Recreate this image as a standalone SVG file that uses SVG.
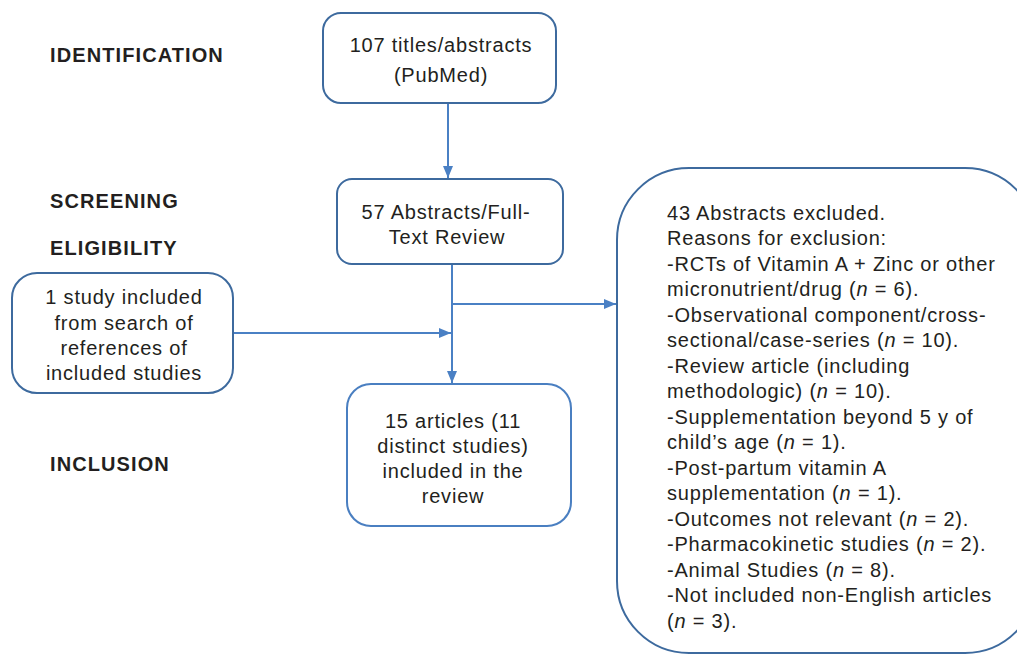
<svg xmlns="http://www.w3.org/2000/svg" width="1017" height="655" viewBox="0 0 1017 655">
<style>
.box{fill:#fff;stroke:#3d6a9e;stroke-width:2}
.box2{fill:#fff;stroke:#4a7fc1;stroke-width:2}
.t{font-family:"Liberation Sans",Arial,sans-serif;font-size:20px;fill:#231f20;letter-spacing:0.8px}
.c{text-anchor:middle}
.lab{font-family:"Liberation Sans",Arial,sans-serif;font-size:20px;font-weight:bold;fill:#231f20;letter-spacing:1.1px}
.con{stroke:#4a80c4;stroke-width:2;fill:none}
</style>
<defs>
<marker id="ah" viewBox="0 0 12 10" refX="12" refY="5" markerWidth="12" markerHeight="10" markerUnits="userSpaceOnUse" orient="auto">
<path d="M0,0 L12,5 L0,10 Z" fill="#4a80c4"/>
</marker>
</defs>
<g id="labels">
<text class="lab" x="50" y="62">IDENTIFICATION</text>
<text class="lab" x="50" y="208">SCREENING</text>
<text class="lab" x="50" y="255">ELIGIBILITY</text>
<text class="lab" x="50" y="471">INCLUSION</text>
</g>
<g id="connectors">
<line class="con" x1="448" y1="103" x2="448" y2="178" marker-end="url(#ah)"/>
<line class="con" x1="452" y1="264" x2="452" y2="383" marker-end="url(#ah)"/>
<line class="con" x1="452" y1="304" x2="616" y2="304" marker-end="url(#ah)"/>
<line class="con" x1="233" y1="333" x2="451" y2="333" marker-end="url(#ah)"/>
</g>
<g id="n1">
<rect class="box" x="323" y="13" width="233" height="90" rx="18"/>
<text class="t c" x="441" y="52">107 titles/abstracts</text>
<text class="t c" x="441" y="82">(PubMed)</text>
</g>
<g id="n2">
<rect class="box" x="337" y="179" width="226" height="85" rx="15"/>
<text class="t c" x="446" y="219">57 Abstracts/Full-</text>
<text class="t c" x="447" y="244">Text Review</text>
</g>
<g id="n3">
<rect class="box2" x="347" y="384" width="224" height="142" rx="24"/>
<text class="t c" x="453" y="428">15 articles (11</text>
<text class="t c" x="453" y="453">distinct studies)</text>
<text class="t c" x="453" y="478">included in the</text>
<text class="t c" x="453" y="503">review</text>
</g>
<g id="n4">
<rect class="box" x="12" y="273" width="221" height="120" rx="25"/>
<text class="t c" x="124" y="304">1 study included</text>
<text class="t c" x="124" y="330">from search of</text>
<text class="t c" x="124" y="355">references of</text>
<text class="t c" x="124" y="380">included studies</text>
</g>
<g id="n5">
<rect class="box" x="617" y="168" width="420" height="485" rx="72"/>
<text class="t" x="667" y="220">43 Abstracts excluded.</text>
<text class="t" x="667" y="245">Reasons for exclusion:</text>
<text class="t" x="667" y="271">-RCTs of Vitamin A + Zinc or other</text>
<text class="t" x="667" y="296">micronutrient/drug (<tspan font-style="italic">n</tspan> = 6).</text>
<text class="t" x="667" y="322">-Observational component/cross-</text>
<text class="t" x="667" y="347">sectional/case-series (<tspan font-style="italic">n</tspan> = 10).</text>
<text class="t" x="667" y="373">-Review article (including</text>
<text class="t" x="667" y="398">methodologic) (<tspan font-style="italic">n</tspan> = 10).</text>
<text class="t" x="667" y="424">-Supplementation beyond 5 y of</text>
<text class="t" x="667" y="449">child’s age (<tspan font-style="italic">n</tspan> = 1).</text>
<text class="t" x="667" y="475">-Post-partum vitamin A</text>
<text class="t" x="667" y="500">supplementation (<tspan font-style="italic">n</tspan> = 1).</text>
<text class="t" x="667" y="526">-Outcomes not relevant (<tspan font-style="italic">n</tspan> = 2).</text>
<text class="t" x="667" y="551">-Pharmacokinetic studies (<tspan font-style="italic">n</tspan> = 2).</text>
<text class="t" x="667" y="577">-Animal Studies (<tspan font-style="italic">n</tspan> = 8).</text>
<text class="t" x="667" y="602">-Not included non-English articles</text>
<text class="t" x="667" y="628">(<tspan font-style="italic">n</tspan> = 3).</text>
</g>
</svg>
